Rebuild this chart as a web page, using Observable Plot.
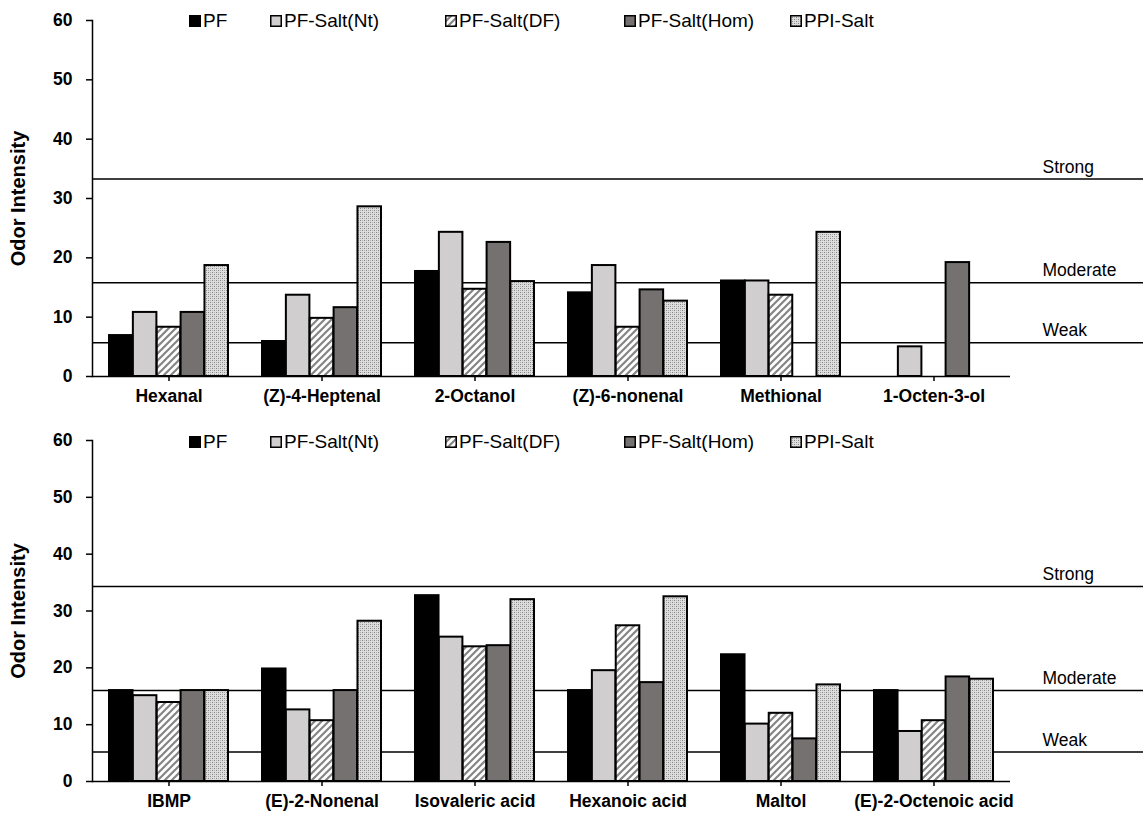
<!DOCTYPE html>
<html><head><meta charset="utf-8">
<script src="https://cdn.jsdelivr.net/npm/d3@7"></script>
<script src="https://cdn.jsdelivr.net/npm/@observablehq/plot@0.6"></script>
<style>
body{margin:0;background:#fff;font-family:"Liberation Sans",Arial,sans-serif;}
#wrap{position:relative;width:1143px;height:813px;overflow:hidden;background:#fff;}
.panel{position:absolute;left:0;width:1143px;}
.legend{position:absolute;left:0;top:0;width:1143px;height:30px;font-size:19px;color:#000;white-space:nowrap;}
.item{position:absolute;display:flex;align-items:center;line-height:22px;}
.item svg{margin-right:2px;}
</style></head><body>
<svg width="0" height="0" style="position:absolute">
<defs>
<pattern id="hatch" patternUnits="userSpaceOnUse" width="7" height="7">
<rect width="7" height="7" fill="#fff"/>
<path d="M-1,1 l2,-2 M0,7 l7,-7 M6,8 l2,-2" stroke="#858585" stroke-width="2.2"/>
</pattern>
<pattern id="dots" patternUnits="userSpaceOnUse" width="4" height="4">
<rect width="4" height="4" fill="#dedede"/>
<rect x="0" y="0" width="1" height="1" fill="#858585"/>
<rect x="2" y="2" width="1" height="1" fill="#858585"/>
<rect x="2" y="0" width="1" height="1" fill="#b0b0b0"/>
<rect x="0" y="2" width="1" height="1" fill="#b0b0b0"/>
</pattern>
</defs></svg>
<div id="wrap"><div id="top" class="panel" style="top:0"></div><div id="bot" class="panel" style="top:406px"></div></div>
<script>
// ---- data ----
const series = ["PF", "PF-Salt(Nt)", "PF-Salt(DF)", "PF-Salt(Hom)", "PPI-Salt"];
const seriesFills = ["#000000", "#d0cece", "url(#hatch)", "#767171", "url(#dots)"];
const levelNames = ["Strong", "Moderate", "Weak"];
const yTicks = [0, 10, 20, 30, 40, 50, 60];

const topCats = ["Hexanal", "(Z)-4-Heptenal", "2-Octanol", "(Z)-6-nonenal", "Methional", "1-Octen-3-ol"];
const topPF  = [6.9, 5.9, 17.7, 14.1, 16.1, 0];
const topNt  = [10.8, 13.7, 24.3, 18.7, 16.1, 5.0];
const topDF  = [8.3, 9.8, 14.7, 8.3, 13.7, 0];
const topHom = [10.8, 11.6, 22.6, 14.6, 0, 19.2];
const topPPI = [18.7, 28.6, 16.0, 12.7, 24.3, 0];
const topLevels = [33.3, 15.8, 5.7];

const botCats = ["IBMP", "(E)-2-Nonenal", "Isovaleric acid", "Hexanoic acid", "Maltol", "(E)-2-Octenoic acid"];
const botPF  = [16.0, 19.8, 32.7, 16.0, 22.3, 16.0];
const botNt  = [15.1, 12.6, 25.4, 19.5, 10.1, 8.8];
const botDF  = [13.9, 10.7, 23.7, 27.4, 12.0, 10.7];
const botHom = [16.0, 16.0, 23.9, 17.4, 7.5, 18.4];
const botPPI = [16.0, 28.2, 32.0, 32.5, 17.0, 18.0];
const botLevels = [34.3, 16.0, 5.2];

const legendX = [189, 270, 445, 624, 790];

function build(el, cats, vals, levels, o) {
  const rows = [];
  series.forEach((s, i) => cats.forEach((c, j) => rows.push({cat: c, series: s, si: i, value: vals[i][j]})));
  const W = 1143, ml = 92, mr = 133;
  const pIn = 0.22, pOut = 0.11;
  const step = (W - ml - mr) / (cats.length - pIn + 2 * pOut);
  const bw = step * (1 - pIn), barW = bw / series.length;
  const lev = levels.map((v, i) => ({v, name: levelNames[i]}));
  const plot = Plot.plot({
    width: W, height: o.height,
    marginLeft: ml, marginRight: mr, marginTop: o.mt, marginBottom: o.mb,
    style: {fontFamily: '"Liberation Sans", Arial, sans-serif', color: "#000", background: "#fff", overflow: "visible"},
    x: {domain: cats, paddingInner: pIn, paddingOuter: pOut, label: null},
    y: {domain: [0, 60], label: null},
    marks: [
      Plot.ruleY(lev, {y: "v", stroke: "#000", strokeWidth: 1.5, insetRight: -mr}),
      Plot.text(lev, {y: "v", text: "name", frameAnchor: "right", dx: 32, dy: -12, textAnchor: "start", fontSize: 17.5, fill: "#000"}),
      ...series.map((s, i) => Plot.barY(rows.filter(d => d.si === i && d.value > 0), {
        x: "cat", y: "value", fill: seriesFills[i], stroke: "#000", strokeWidth: 2,
        insetLeft: barW * i, insetRight: barW * (series.length - 1 - i)
      })),
      Plot.ruleY([0], {stroke: "#000", strokeWidth: 1.5}),
      Plot.axisX({tickSize: 5, tickPadding: 8, fontSize: 17.5, fontWeight: "bold", strokeWidth: 1.5, label: null}),
      Plot.axisY({ticks: yTicks, tickSize: 6, tickPadding: 14, fontSize: 17.5, fontWeight: "bold", strokeWidth: 1.5, label: null}),
      Plot.frame({anchor: "left", strokeWidth: 1.5}),
      Plot.text(["Odor Intensity"], {frameAnchor: "left", dx: -74, rotate: -90, textAnchor: "middle", fontSize: 20, fontWeight: "bold"})
    ]
  });
  el.appendChild(plot);
  const lg = document.createElement("div");
  lg.className = "legend";
  lg.style.top = o.legendTop + "px";
  series.forEach((s, i) => {
    const it = document.createElement("div");
    it.className = "item";
    it.style.left = legendX[i] + "px";
    it.innerHTML = `<svg width="12" height="12"><rect x="0.75" y="0.75" width="10.5" height="10.5" fill="${seriesFills[i]}" stroke="#000" stroke-width="1.5"/></svg><span>${s}</span>`;
    lg.appendChild(it);
  });
  el.appendChild(lg);
}

build(document.getElementById("top"), topCats, [topPF, topNt, topDF, topHom, topPPI], topLevels, {height: 406, mt: 20, mb: 30, legendTop: 10});
build(document.getElementById("bot"), botCats, [botPF, botNt, botDF, botHom, botPPI], botLevels, {height: 407, mt: 34, mb: 32, legendTop: 25});
</script>
</body></html>
